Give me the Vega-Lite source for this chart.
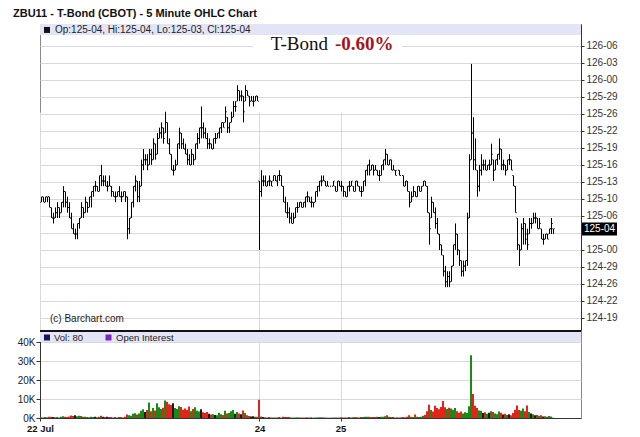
{
"$schema":"https://vega.github.io/schema/vega-lite/v6.json",
"width":541,"height":394,
"autosize":{"type":"none"},
"padding":{"left":40,"top":24,"right":59,"bottom":19},
"background":"white",
"config":{"view":{"stroke":"#888","strokeWidth":1},"axis":{"labelFont":"Liberation Sans"}},
"title":{"text":"ZBU11 - T-Bond (CBOT) - 5 Minute OHLC Chart","anchor":"start","frame":"group","dx":-27,"offset":5.5,"fontSize":11,"font":"Liberation Sans","fontWeight":"bold","color":"#111"},
"data":{"values":[
{"t":0,"o":125.281,"h":125.313,"l":125.281,"c":125.313,"v":400,"d":"u"},
{"t":1,"o":125.313,"h":125.313,"l":125.281,"c":125.281,"v":300,"d":"d"},
{"t":2,"o":125.281,"h":125.313,"l":125.281,"c":125.313,"v":500,"d":"u"},
{"t":3,"o":125.313,"h":125.313,"l":125.281,"c":125.313,"v":300,"d":"f"},
{"t":4,"o":125.313,"h":125.313,"l":125.25,"c":125.25,"v":600,"d":"d"},
{"t":5,"o":125.25,"h":125.25,"l":125.188,"c":125.188,"v":700,"d":"d"},
{"t":6,"o":125.188,"h":125.219,"l":125.156,"c":125.188,"v":500,"d":"f"},
{"t":7,"o":125.188,"h":125.25,"l":125.188,"c":125.219,"v":400,"d":"u"},
{"t":8,"o":125.219,"h":125.281,"l":125.188,"c":125.25,"v":500,"d":"u"},
{"t":9,"o":125.25,"h":125.25,"l":125.188,"c":125.219,"v":300,"d":"d"},
{"t":10,"o":125.219,"h":125.281,"l":125.219,"c":125.281,"v":600,"d":"u"},
{"t":11,"o":125.281,"h":125.375,"l":125.25,"c":125.344,"v":900,"d":"u"},
{"t":12,"o":125.344,"h":125.344,"l":125.25,"c":125.281,"v":700,"d":"d"},
{"t":13,"o":125.281,"h":125.313,"l":125.219,"c":125.25,"v":500,"d":"d"},
{"t":14,"o":125.25,"h":125.281,"l":125.188,"c":125.188,"v":800,"d":"d"},
{"t":15,"o":125.188,"h":125.219,"l":125.125,"c":125.125,"v":1300,"d":"d"},
{"t":16,"o":125.125,"h":125.156,"l":125.094,"c":125.094,"v":1100,"d":"d"},
{"t":17,"o":125.094,"h":125.125,"l":125.063,"c":125.094,"v":1500,"d":"f"},
{"t":18,"o":125.094,"h":125.156,"l":125.063,"c":125.156,"v":900,"d":"u"},
{"t":19,"o":125.156,"h":125.188,"l":125.125,"c":125.188,"v":1200,"d":"u"},
{"t":20,"o":125.188,"h":125.281,"l":125.188,"c":125.25,"v":1000,"d":"u"},
{"t":21,"o":125.25,"h":125.25,"l":125.188,"c":125.219,"v":600,"d":"d"},
{"t":22,"o":125.219,"h":125.313,"l":125.219,"c":125.281,"v":700,"d":"u"},
{"t":23,"o":125.281,"h":125.281,"l":125.219,"c":125.25,"v":500,"d":"d"},
{"t":24,"o":125.25,"h":125.313,"l":125.25,"c":125.313,"v":400,"d":"u"},
{"t":25,"o":125.313,"h":125.344,"l":125.25,"c":125.344,"v":600,"d":"u"},
{"t":26,"o":125.344,"h":125.375,"l":125.313,"c":125.375,"v":500,"d":"u"},
{"t":27,"o":125.375,"h":125.406,"l":125.344,"c":125.375,"v":700,"d":"f"},
{"t":28,"o":125.375,"h":125.375,"l":125.344,"c":125.344,"v":400,"d":"d"},
{"t":29,"o":125.344,"h":125.438,"l":125.344,"c":125.438,"v":600,"d":"u"},
{"t":30,"o":125.438,"h":125.5,"l":125.375,"c":125.406,"v":1200,"d":"d"},
{"t":31,"o":125.406,"h":125.438,"l":125.375,"c":125.406,"v":700,"d":"f"},
{"t":32,"o":125.406,"h":125.438,"l":125.375,"c":125.375,"v":500,"d":"d"},
{"t":33,"o":125.375,"h":125.406,"l":125.344,"c":125.375,"v":600,"d":"f"},
{"t":34,"o":125.375,"h":125.438,"l":125.375,"c":125.375,"v":400,"d":"f"},
{"t":35,"o":125.375,"h":125.375,"l":125.313,"c":125.344,"v":500,"d":"d"},
{"t":36,"o":125.344,"h":125.344,"l":125.313,"c":125.313,"v":300,"d":"d"},
{"t":37,"o":125.313,"h":125.344,"l":125.281,"c":125.313,"v":400,"d":"f"},
{"t":38,"o":125.313,"h":125.344,"l":125.313,"c":125.344,"v":300,"d":"u"},
{"t":39,"o":125.344,"h":125.375,"l":125.313,"c":125.313,"v":500,"d":"d"},
{"t":40,"o":125.313,"h":125.344,"l":125.281,"c":125.313,"v":400,"d":"f"},
{"t":41,"o":125.313,"h":125.344,"l":125.313,"c":125.344,"v":300,"d":"u"},
{"t":42,"o":125.344,"h":125.344,"l":125.281,"c":125.313,"v":600,"d":"d"},
{"t":43,"o":125.313,"h":125.313,"l":125.063,"c":125.125,"v":1800,"d":"d"},
{"t":44,"o":125.125,"h":125.188,"l":125.094,"c":125.188,"v":1500,"d":"u"},
{"t":45,"o":125.188,"h":125.281,"l":125.188,"c":125.281,"v":1200,"d":"u"},
{"t":46,"o":125.281,"h":125.375,"l":125.25,"c":125.375,"v":2200,"d":"u"},
{"t":47,"o":125.375,"h":125.438,"l":125.344,"c":125.406,"v":2500,"d":"u"},
{"t":48,"o":125.406,"h":125.406,"l":125.281,"c":125.313,"v":1800,"d":"d"},
{"t":49,"o":125.313,"h":125.406,"l":125.281,"c":125.375,"v":2400,"d":"u"},
{"t":50,"o":125.375,"h":125.531,"l":125.375,"c":125.5,"v":3800,"d":"u"},
{"t":51,"o":125.5,"h":125.594,"l":125.469,"c":125.531,"v":4600,"d":"u"},
{"t":52,"o":125.531,"h":125.563,"l":125.5,"c":125.531,"v":3200,"d":"f"},
{"t":53,"o":125.531,"h":125.563,"l":125.469,"c":125.5,"v":4200,"d":"d"},
{"t":54,"o":125.5,"h":125.594,"l":125.5,"c":125.563,"v":8200,"d":"u"},
{"t":55,"o":125.563,"h":125.594,"l":125.5,"c":125.531,"v":3500,"d":"d"},
{"t":56,"o":125.531,"h":125.656,"l":125.531,"c":125.625,"v":5200,"d":"u"},
{"t":57,"o":125.625,"h":125.625,"l":125.531,"c":125.563,"v":4000,"d":"d"},
{"t":58,"o":125.563,"h":125.688,"l":125.563,"c":125.656,"v":7800,"d":"u"},
{"t":59,"o":125.656,"h":125.719,"l":125.656,"c":125.688,"v":5600,"d":"u"},
{"t":60,"o":125.688,"h":125.75,"l":125.656,"c":125.719,"v":4800,"d":"u"},
{"t":61,"o":125.719,"h":125.719,"l":125.625,"c":125.656,"v":5400,"d":"d"},
{"t":62,"o":125.688,"h":125.813,"l":125.688,"c":125.75,"v":9200,"d":"u"},
{"t":63,"o":125.75,"h":125.75,"l":125.625,"c":125.625,"v":8600,"d":"d"},
{"t":64,"o":125.625,"h":125.656,"l":125.563,"c":125.563,"v":7200,"d":"d"},
{"t":65,"o":125.563,"h":125.563,"l":125.469,"c":125.469,"v":6800,"d":"d"},
{"t":66,"o":125.469,"h":125.5,"l":125.438,"c":125.469,"v":7800,"d":"f"},
{"t":67,"o":125.469,"h":125.531,"l":125.469,"c":125.5,"v":5200,"d":"u"},
{"t":68,"o":125.5,"h":125.625,"l":125.5,"c":125.625,"v":4800,"d":"u"},
{"t":69,"o":125.625,"h":125.719,"l":125.594,"c":125.688,"v":6200,"d":"u"},
{"t":70,"o":125.688,"h":125.688,"l":125.594,"c":125.625,"v":5800,"d":"d"},
{"t":71,"o":125.625,"h":125.656,"l":125.594,"c":125.594,"v":4400,"d":"d"},
{"t":72,"o":125.594,"h":125.625,"l":125.563,"c":125.563,"v":5000,"d":"d"},
{"t":73,"o":125.563,"h":125.594,"l":125.5,"c":125.531,"v":4200,"d":"d"},
{"t":74,"o":125.531,"h":125.563,"l":125.5,"c":125.5,"v":6000,"d":"d"},
{"t":75,"o":125.5,"h":125.594,"l":125.5,"c":125.563,"v":3600,"d":"u"},
{"t":76,"o":125.563,"h":125.563,"l":125.5,"c":125.531,"v":4800,"d":"d"},
{"t":77,"o":125.531,"h":125.625,"l":125.531,"c":125.625,"v":5600,"d":"u"},
{"t":78,"o":125.625,"h":125.688,"l":125.594,"c":125.656,"v":3800,"d":"u"},
{"t":79,"o":125.656,"h":125.719,"l":125.625,"c":125.719,"v":3400,"d":"u"},
{"t":80,"o":125.719,"h":125.844,"l":125.656,"c":125.719,"v":4600,"d":"f"},
{"t":81,"o":125.719,"h":125.75,"l":125.656,"c":125.688,"v":3000,"d":"d"},
{"t":82,"o":125.688,"h":125.719,"l":125.656,"c":125.656,"v":2600,"d":"d"},
{"t":83,"o":125.656,"h":125.688,"l":125.594,"c":125.625,"v":3200,"d":"d"},
{"t":84,"o":125.625,"h":125.656,"l":125.594,"c":125.625,"v":2200,"d":"f"},
{"t":85,"o":125.625,"h":125.625,"l":125.594,"c":125.594,"v":1800,"d":"d"},
{"t":86,"o":125.594,"h":125.656,"l":125.594,"c":125.656,"v":2000,"d":"u"},
{"t":87,"o":125.656,"h":125.688,"l":125.625,"c":125.656,"v":1600,"d":"f"},
{"t":88,"o":125.656,"h":125.688,"l":125.656,"c":125.688,"v":1400,"d":"u"},
{"t":89,"o":125.688,"h":125.719,"l":125.656,"c":125.719,"v":2800,"d":"u"},
{"t":90,"o":125.719,"h":125.75,"l":125.688,"c":125.75,"v":2000,"d":"u"},
{"t":91,"o":125.75,"h":125.75,"l":125.719,"c":125.719,"v":1600,"d":"d"},
{"t":92,"o":125.75,"h":125.844,"l":125.75,"c":125.813,"v":3800,"d":"u"},
{"t":93,"o":125.781,"h":125.781,"l":125.688,"c":125.719,"v":2400,"d":"d"},
{"t":94,"o":125.719,"h":125.75,"l":125.688,"c":125.75,"v":2600,"d":"u"},
{"t":95,"o":125.75,"h":125.813,"l":125.75,"c":125.781,"v":3600,"d":"u"},
{"t":96,"o":125.781,"h":125.875,"l":125.781,"c":125.844,"v":4200,"d":"u"},
{"t":97,"o":125.844,"h":125.875,"l":125.813,"c":125.844,"v":2200,"d":"f"},
{"t":98,"o":125.875,"h":125.969,"l":125.875,"c":125.938,"v":3200,"d":"u"},
{"t":99,"o":125.938,"h":125.938,"l":125.875,"c":125.906,"v":2400,"d":"d"},
{"t":100,"o":125.906,"h":125.938,"l":125.875,"c":125.906,"v":2000,"d":"f"},
{"t":101,"o":125.906,"h":125.906,"l":125.75,"c":125.813,"v":4000,"d":"d"},
{"t":102,"o":125.875,"h":125.969,"l":125.875,"c":125.938,"v":2600,"d":"u"},
{"t":103,"o":125.938,"h":125.938,"l":125.906,"c":125.906,"v":1400,"d":"d"},
{"t":104,"o":125.906,"h":125.906,"l":125.844,"c":125.875,"v":1000,"d":"d"},
{"t":105,"o":125.875,"h":125.906,"l":125.875,"c":125.875,"v":800,"d":"f"},
{"t":106,"o":125.875,"h":125.906,"l":125.844,"c":125.875,"v":900,"d":"f"},
{"t":107,"o":125.875,"h":125.906,"l":125.875,"c":125.906,"v":700,"d":"u"},
{"t":108,"o":125.906,"h":125.906,"l":125.875,"c":125.875,"v":600,"d":"d"},
{"t":109,"o":125.406,"h":125.406,"l":125,"c":125.344,"v":9600,"d":"d"},
{"t":110,"o":125.344,"h":125.469,"l":125.313,"c":125.406,"v":800,"d":"u"},
{"t":111,"o":125.406,"h":125.438,"l":125.375,"c":125.406,"v":500,"d":"f"},
{"t":112,"o":125.406,"h":125.438,"l":125.375,"c":125.375,"v":400,"d":"d"},
{"t":113,"o":125.375,"h":125.406,"l":125.375,"c":125.406,"v":300,"d":"u"},
{"t":114,"o":125.406,"h":125.438,"l":125.375,"c":125.406,"v":400,"d":"f"},
{"t":115,"o":125.406,"h":125.406,"l":125.375,"c":125.375,"v":300,"d":"d"},
{"t":116,"o":125.406,"h":125.438,"l":125.406,"c":125.438,"v":300,"d":"u"},
{"t":117,"o":125.438,"h":125.438,"l":125.406,"c":125.406,"v":200,"d":"d"},
{"t":118,"o":125.406,"h":125.438,"l":125.375,"c":125.438,"v":300,"d":"u"},
{"t":119,"o":125.438,"h":125.469,"l":125.406,"c":125.438,"v":400,"d":"f"},
{"t":120,"o":125.438,"h":125.438,"l":125.375,"c":125.375,"v":300,"d":"d"},
{"t":121,"o":125.375,"h":125.375,"l":125.281,"c":125.281,"v":600,"d":"d"},
{"t":122,"o":125.281,"h":125.313,"l":125.219,"c":125.219,"v":500,"d":"d"},
{"t":123,"o":125.219,"h":125.281,"l":125.188,"c":125.219,"v":400,"d":"f"},
{"t":124,"o":125.219,"h":125.25,"l":125.156,"c":125.188,"v":500,"d":"d"},
{"t":125,"o":125.188,"h":125.219,"l":125.156,"c":125.156,"v":300,"d":"d"},
{"t":126,"o":125.156,"h":125.219,"l":125.156,"c":125.188,"v":300,"d":"u"},
{"t":127,"o":125.188,"h":125.25,"l":125.188,"c":125.25,"v":200,"d":"u"},
{"t":128,"o":125.25,"h":125.281,"l":125.219,"c":125.25,"v":300,"d":"f"},
{"t":129,"o":125.25,"h":125.281,"l":125.25,"c":125.281,"v":200,"d":"u"},
{"t":130,"o":125.281,"h":125.281,"l":125.25,"c":125.25,"v":200,"d":"d"},
{"t":131,"o":125.25,"h":125.281,"l":125.25,"c":125.281,"v":200,"d":"u"},
{"t":132,"o":125.281,"h":125.313,"l":125.25,"c":125.313,"v":300,"d":"u"},
{"t":133,"o":125.313,"h":125.344,"l":125.281,"c":125.313,"v":300,"d":"f"},
{"t":134,"o":125.313,"h":125.313,"l":125.281,"c":125.281,"v":200,"d":"d"},
{"t":135,"o":125.281,"h":125.313,"l":125.25,"c":125.281,"v":200,"d":"f"},
{"t":136,"o":125.281,"h":125.281,"l":125.25,"c":125.281,"v":100,"d":"f"},
{"t":137,"o":125.281,"h":125.344,"l":125.281,"c":125.344,"v":300,"d":"u"},
{"t":138,"o":125.344,"h":125.375,"l":125.313,"c":125.375,"v":300,"d":"u"},
{"t":139,"o":125.375,"h":125.406,"l":125.344,"c":125.406,"v":400,"d":"u"},
{"t":140,"o":125.406,"h":125.438,"l":125.375,"c":125.406,"v":300,"d":"f"},
{"t":141,"o":125.406,"h":125.438,"l":125.406,"c":125.406,"v":200,"d":"f"},
{"t":142,"o":125.406,"h":125.406,"l":125.375,"c":125.375,"v":200,"d":"d"},
{"t":143,"o":125.375,"h":125.406,"l":125.375,"c":125.375,"v":100,"d":"f"},
{"t":144,"o":125.375,"h":125.375,"l":125.375,"c":125.375,"v":100,"d":"f"},
{"t":145,"o":125.375,"h":125.375,"l":125.375,"c":125.375,"v":100,"d":"f"},
{"t":146,"o":125.375,"h":125.406,"l":125.375,"c":125.406,"v":200,"d":"u"},
{"t":147,"o":125.375,"h":125.375,"l":125.344,"c":125.344,"v":200,"d":"d"},
{"t":148,"o":125.344,"h":125.406,"l":125.344,"c":125.406,"v":300,"d":"u"},
{"t":149,"o":125.406,"h":125.406,"l":125.375,"c":125.375,"v":200,"d":"d"},
{"t":150,"o":125.375,"h":125.406,"l":125.344,"c":125.375,"v":300,"d":"f"},
{"t":151,"o":125.375,"h":125.375,"l":125.313,"c":125.344,"v":200,"d":"d"},
{"t":152,"o":125.344,"h":125.344,"l":125.313,"c":125.313,"v":200,"d":"d"},
{"t":153,"o":125.313,"h":125.375,"l":125.313,"c":125.375,"v":300,"d":"u"},
{"t":154,"o":125.375,"h":125.406,"l":125.344,"c":125.375,"v":400,"d":"f"},
{"t":155,"o":125.375,"h":125.406,"l":125.375,"c":125.406,"v":300,"d":"u"},
{"t":156,"o":125.375,"h":125.375,"l":125.344,"c":125.344,"v":400,"d":"d"},
{"t":157,"o":125.344,"h":125.406,"l":125.344,"c":125.406,"v":500,"d":"u"},
{"t":158,"o":125.406,"h":125.406,"l":125.375,"c":125.375,"v":400,"d":"d"},
{"t":159,"o":125.375,"h":125.375,"l":125.344,"c":125.344,"v":300,"d":"d"},
{"t":160,"o":125.344,"h":125.375,"l":125.313,"c":125.344,"v":400,"d":"f"},
{"t":161,"o":125.344,"h":125.406,"l":125.344,"c":125.406,"v":500,"d":"u"},
{"t":162,"o":125.406,"h":125.469,"l":125.375,"c":125.469,"v":600,"d":"u"},
{"t":163,"o":125.469,"h":125.5,"l":125.438,"c":125.5,"v":700,"d":"u"},
{"t":164,"o":125.5,"h":125.531,"l":125.438,"c":125.469,"v":600,"d":"d"},
{"t":165,"o":125.469,"h":125.5,"l":125.469,"c":125.5,"v":500,"d":"u"},
{"t":166,"o":125.5,"h":125.5,"l":125.438,"c":125.469,"v":500,"d":"d"},
{"t":167,"o":125.469,"h":125.5,"l":125.469,"c":125.469,"v":400,"d":"f"},
{"t":168,"o":125.469,"h":125.469,"l":125.438,"c":125.438,"v":600,"d":"d"},
{"t":169,"o":125.438,"h":125.469,"l":125.406,"c":125.438,"v":500,"d":"f"},
{"t":170,"o":125.438,"h":125.5,"l":125.438,"c":125.5,"v":600,"d":"u"},
{"t":171,"o":125.5,"h":125.531,"l":125.469,"c":125.531,"v":700,"d":"u"},
{"t":172,"o":125.531,"h":125.594,"l":125.5,"c":125.563,"v":900,"d":"u"},
{"t":173,"o":125.563,"h":125.563,"l":125.5,"c":125.5,"v":1400,"d":"d"},
{"t":174,"o":125.5,"h":125.531,"l":125.5,"c":125.531,"v":600,"d":"u"},
{"t":175,"o":125.531,"h":125.531,"l":125.469,"c":125.469,"v":500,"d":"d"},
{"t":176,"o":125.469,"h":125.5,"l":125.469,"c":125.469,"v":400,"d":"f"},
{"t":177,"o":125.469,"h":125.469,"l":125.438,"c":125.438,"v":300,"d":"d"},
{"t":178,"o":125.469,"h":125.469,"l":125.469,"c":125.469,"v":200,"d":"f"},
{"t":179,"o":125.469,"h":125.469,"l":125.438,"c":125.438,"v":300,"d":"d"},
{"t":180,"o":125.438,"h":125.438,"l":125.438,"c":125.438,"v":200,"d":"f"},
{"t":181,"o":125.438,"h":125.438,"l":125.375,"c":125.375,"v":500,"d":"d"},
{"t":182,"o":125.375,"h":125.406,"l":125.375,"c":125.406,"v":400,"d":"u"},
{"t":183,"o":125.406,"h":125.406,"l":125.344,"c":125.344,"v":600,"d":"d"},
{"t":184,"o":125.344,"h":125.344,"l":125.25,"c":125.281,"v":1500,"d":"d"},
{"t":185,"o":125.281,"h":125.344,"l":125.281,"c":125.313,"v":700,"d":"u"},
{"t":186,"o":125.313,"h":125.375,"l":125.313,"c":125.344,"v":500,"d":"u"},
{"t":187,"o":125.344,"h":125.344,"l":125.313,"c":125.313,"v":1800,"d":"d"},
{"t":188,"o":125.313,"h":125.375,"l":125.313,"c":125.375,"v":600,"d":"u"},
{"t":189,"o":125.375,"h":125.375,"l":125.344,"c":125.344,"v":500,"d":"d"},
{"t":190,"o":125.344,"h":125.375,"l":125.344,"c":125.375,"v":700,"d":"u"},
{"t":191,"o":125.375,"h":125.406,"l":125.375,"c":125.406,"v":1200,"d":"u"},
{"t":192,"o":125.406,"h":125.406,"l":125.375,"c":125.375,"v":1600,"d":"d"},
{"t":193,"o":125.375,"h":125.375,"l":125.219,"c":125.219,"v":3600,"d":"d"},
{"t":194,"o":125.219,"h":125.219,"l":125.031,"c":125.125,"v":7000,"d":"d"},
{"t":195,"o":125.188,"h":125.313,"l":125.188,"c":125.281,"v":4200,"d":"u"},
{"t":196,"o":125.281,"h":125.281,"l":125.219,"c":125.219,"v":3400,"d":"d"},
{"t":197,"o":125.219,"h":125.25,"l":125.125,"c":125.156,"v":6400,"d":"d"},
{"t":198,"o":125.156,"h":125.188,"l":125.094,"c":125.094,"v":5200,"d":"d"},
{"t":199,"o":125.094,"h":125.094,"l":125,"c":125.031,"v":4600,"d":"d"},
{"t":200,"o":125.031,"h":125.031,"l":124.969,"c":125,"v":5800,"d":"d"},
{"t":201,"o":124.969,"h":124.969,"l":124.844,"c":124.875,"v":9000,"d":"d"},
{"t":202,"o":124.875,"h":124.906,"l":124.781,"c":124.813,"v":5600,"d":"d"},
{"t":203,"o":124.813,"h":124.875,"l":124.781,"c":124.844,"v":4800,"d":"u"},
{"t":204,"o":124.844,"h":124.875,"l":124.781,"c":124.813,"v":5400,"d":"d"},
{"t":205,"o":124.813,"h":124.906,"l":124.813,"c":124.906,"v":5000,"d":"u"},
{"t":206,"o":124.906,"h":125.031,"l":124.906,"c":125.031,"v":4400,"d":"u"},
{"t":207,"o":125.031,"h":125.156,"l":125,"c":125.094,"v":5200,"d":"u"},
{"t":208,"o":125.094,"h":125.094,"l":124.969,"c":125,"v":3600,"d":"d"},
{"t":209,"o":125,"h":125,"l":124.906,"c":124.938,"v":2800,"d":"d"},
{"t":210,"o":124.938,"h":124.938,"l":124.844,"c":124.875,"v":3400,"d":"d"},
{"t":211,"o":124.875,"h":124.938,"l":124.844,"c":124.906,"v":2400,"d":"u"},
{"t":212,"o":124.906,"h":124.938,"l":124.875,"c":124.938,"v":3000,"d":"u"},
{"t":213,"o":124.938,"h":125.219,"l":124.906,"c":125.188,"v":2600,"d":"u"},
{"t":214,"o":125.188,"h":125.563,"l":125.188,"c":125.531,"v":6200,"d":"u"},
{"t":215,"o":125.531,"h":126.094,"l":125.531,"c":125.688,"v":33000,"d":"u"},
{"t":216,"o":125.688,"h":125.781,"l":125.469,"c":125.531,"v":12600,"d":"d"},
{"t":217,"o":125.531,"h":125.656,"l":125.469,"c":125.5,"v":6400,"d":"d"},
{"t":218,"o":125.469,"h":125.469,"l":125.313,"c":125.375,"v":5200,"d":"d"},
{"t":219,"o":125.375,"h":125.5,"l":125.344,"c":125.469,"v":4000,"d":"u"},
{"t":220,"o":125.469,"h":125.563,"l":125.438,"c":125.5,"v":3800,"d":"u"},
{"t":221,"o":125.5,"h":125.531,"l":125.469,"c":125.5,"v":2600,"d":"f"},
{"t":222,"o":125.5,"h":125.531,"l":125.469,"c":125.469,"v":3000,"d":"d"},
{"t":223,"o":125.469,"h":125.5,"l":125.469,"c":125.5,"v":2200,"d":"u"},
{"t":224,"o":125.5,"h":125.531,"l":125.469,"c":125.5,"v":2800,"d":"f"},
{"t":225,"o":125.5,"h":125.625,"l":125.5,"c":125.563,"v":3600,"d":"u"},
{"t":226,"o":125.531,"h":125.531,"l":125.406,"c":125.469,"v":3200,"d":"d"},
{"t":227,"o":125.469,"h":125.531,"l":125.469,"c":125.531,"v":2400,"d":"u"},
{"t":228,"o":125.531,"h":125.563,"l":125.5,"c":125.563,"v":2000,"d":"u"},
{"t":229,"o":125.563,"h":125.656,"l":125.531,"c":125.594,"v":3400,"d":"u"},
{"t":230,"o":125.594,"h":125.594,"l":125.469,"c":125.5,"v":2800,"d":"d"},
{"t":231,"o":125.5,"h":125.531,"l":125.469,"c":125.5,"v":1800,"d":"f"},
{"t":232,"o":125.5,"h":125.5,"l":125.438,"c":125.469,"v":2200,"d":"d"},
{"t":233,"o":125.469,"h":125.531,"l":125.469,"c":125.531,"v":1600,"d":"u"},
{"t":234,"o":125.531,"h":125.563,"l":125.5,"c":125.531,"v":2000,"d":"f"},
{"t":235,"o":125.531,"h":125.531,"l":125.469,"c":125.469,"v":1400,"d":"d"},
{"t":236,"o":125.438,"h":125.438,"l":125.375,"c":125.375,"v":2600,"d":"d"},
{"t":237,"o":125.375,"h":125.375,"l":125.219,"c":125.219,"v":4400,"d":"d"},
{"t":238,"o":125.188,"h":125.188,"l":125,"c":125.031,"v":6600,"d":"d"},
{"t":239,"o":125.031,"h":125.031,"l":124.906,"c":125,"v":4200,"d":"d"},
{"t":240,"o":125,"h":125.156,"l":125,"c":125.125,"v":3800,"d":"u"},
{"t":241,"o":125.125,"h":125.188,"l":125.031,"c":125.156,"v":5000,"d":"u"},
{"t":242,"o":125.156,"h":125.156,"l":125.031,"c":125.063,"v":3600,"d":"d"},
{"t":243,"o":125.094,"h":125.125,"l":125,"c":125.031,"v":6600,"d":"d"},
{"t":244,"o":125.094,"h":125.188,"l":125.094,"c":125.156,"v":3200,"d":"u"},
{"t":245,"o":125.156,"h":125.188,"l":125.125,"c":125.156,"v":2400,"d":"f"},
{"t":246,"o":125.156,"h":125.219,"l":125.156,"c":125.188,"v":2000,"d":"u"},
{"t":247,"o":125.188,"h":125.219,"l":125.156,"c":125.188,"v":1400,"d":"f"},
{"t":248,"o":125.188,"h":125.188,"l":125.125,"c":125.125,"v":1600,"d":"d"},
{"t":249,"o":125.125,"h":125.188,"l":125.125,"c":125.156,"v":1200,"d":"u"},
{"t":250,"o":125.125,"h":125.125,"l":125.063,"c":125.063,"v":1400,"d":"d"},
{"t":251,"o":125.063,"h":125.094,"l":125.031,"c":125.063,"v":800,"d":"f"},
{"t":252,"o":125.063,"h":125.094,"l":125.063,"c":125.094,"v":900,"d":"u"},
{"t":253,"o":125.094,"h":125.094,"l":125.063,"c":125.063,"v":600,"d":"d"},
{"t":254,"o":125.094,"h":125.125,"l":125.094,"c":125.125,"v":1000,"d":"u"},
{"t":255,"o":125.125,"h":125.188,"l":125.094,"c":125.156,"v":800,"d":"u"},
{"t":256,"o":125.125,"h":125.125,"l":125.094,"c":125.125,"v":80,"d":"f"}
]},
"layer":[
 {"encoding":{
    "x":{"field":"t","type":"quantitative","title":null,"scale":{"domain":[-0.75,269.75],"nice":false,"zero":false,"padding":0},
      "axis":{"orient":"bottom","values":[-0.75,109,149.5],"labelExpr":"datum.value < 0 ? '22 Jul' : (datum.value < 120 ? '24' : '25')","title":null,"grid":true,"gridColor":"#d9d9d9","labelFontWeight":"bold","labelFontSize":9.5,"labelColor":"#111","tickSize":3,"tickColor":"#333","labelPadding":2,"domainColor":"#333","labelFlush":false,"labelOverlap":false}},
    "y":{"field":"h","type":"quantitative","title":null,"scale":{"domain":[124.529,126.329],"range":[306,0],"nice":false,"zero":false},
      "axis":{"orient":"right","values":[124.6,124.7,124.8,124.9,125,125.1,125.2,125.3,125.4,125.5,125.6,125.7,125.8,125.9,126,126.1,126.2],
      "labelExpr":"abs(datum.value - 125.1) < 0.01 ? '' : floor(datum.value + 0.0001) + '-' + (round((datum.value - floor(datum.value + 0.0001)) * 32) < 10 ? '0' : '') + round((datum.value - floor(datum.value + 0.0001)) * 32)",
      "title":null,"grid":true,"gridColor":"#d9d9d9","tickSize":3,"tickColor":"#333","labelPadding":2,"domainColor":"#333","labelFontSize":10,"labelColor":"#333","labelOverlap":false,"labelFlush":false}}},
  "layer":[
   {"mark":{"type":"rule","color":"#000","strokeWidth":1},"encoding":{"y2":{"field":"l"}}},
   {"mark":{"type":"tick","orient":"horizontal","size":1,"thickness":1,"xOffset":-1,"color":"#000"},"encoding":{"y":{"field":"o"}}},
   {"mark":{"type":"tick","orient":"horizontal","size":1,"thickness":1,"xOffset":1,"color":"#000"},"encoding":{"y":{"field":"c"}}}
  ]},
 {"mark":{"type":"bar","size":2,"xOffset":-0.5},
  "encoding":{
     "x":{"field":"t","type":"quantitative","title":null,"scale":{"domain":[-0.75,269.75],"nice":false,"zero":false,"padding":0}},
     "y":{"field":"v","type":"quantitative","stack":null,"title":null,"scale":{"domain":[0,45790],"range":[394,307],"nice":false,"zero":false},
      "axis":{"orient":"left","values":[0,10000,20000,30000,40000],"labelExpr":"(datum.value / 1000) + 'K'","title":null,"grid":true,"gridColor":"#d9d9d9","tickSize":4,"tickColor":"#333","labelPadding":1,"domainColor":"#333","labelFontSize":10,"labelColor":"#222","labelFlush":false,"labelOverlap":false}},
     "color":{"field":"d","type":"nominal","scale":{"domain":["u","d","f"],"range":["#178a17","#e3241b","#1c1c1c"]},"legend":null}}},
 {"data":{"values":[{}]},
  "layer":[
   {"mark":{"type":"rect","color":"#e3e5f7"},"encoding":{"x":{"datum":-0.75,"type":"quantitative"},"x2":{"datum":269.75},"y":{"datum":126.264,"type":"quantitative","scale":{"domain":[124.529,126.329],"range":[306,0],"nice":false,"zero":false},"axis":null},"y2":{"datum":126.329}}},
   {"mark":{"type":"point","shape":"square","filled":true,"size":36,"color":"#111","opacity":1},"encoding":{"x":{"datum":2.75,"type":"quantitative"},"y":{"datum":126.294,"type":"quantitative","axis":null}}},
   {"mark":{"type":"text","align":"left","baseline":"middle","font":"Liberation Sans","fontSize":10,"color":"#222"},"encoding":{"x":{"datum":6.75,"type":"quantitative"},"y":{"datum":126.294,"type":"quantitative","axis":null},"text":{"value":"Op:125-04, Hi:125-04, Lo:125-03, Cl:125-04"}}},
   {"mark":{"type":"rect","color":"white"},"encoding":{"x":{"datum":105.75,"type":"quantitative"},"x2":{"datum":180.25},"y":{"datum":126.147,"type":"quantitative","axis":null},"y2":{"datum":126.258}}},
   {"mark":{"type":"text","align":"right","baseline":"alphabetic","font":"Liberation Serif","fontSize":19,"color":"#111"},"encoding":{"x":{"datum":143.25,"type":"quantitative"},"y":{"datum":126.179,"type":"quantitative","axis":null},"text":{"value":"T-Bond"}}},
   {"mark":{"type":"text","align":"left","baseline":"alphabetic","font":"Liberation Serif","fontSize":19,"fontWeight":"bold","color":"#a3141a"},"encoding":{"x":{"datum":146.75,"type":"quantitative"},"y":{"datum":126.179,"type":"quantitative","axis":null},"text":{"value":"-0.60%"}}},
   {"mark":{"type":"text","align":"left","baseline":"middle","font":"Liberation Sans","fontSize":10,"color":"#222"},"encoding":{"x":{"datum":4.25,"type":"quantitative"},"y":{"datum":124.596,"type":"quantitative","axis":null},"text":{"value":"(c) Barchart.com"}}},
   {"mark":{"type":"rect","color":"#000"},"encoding":{"x":{"datum":270.25,"type":"quantitative"},"x2":{"datum":287.75},"y":{"datum":125.085,"type":"quantitative","axis":null},"y2":{"datum":125.161}}},
   {"mark":{"type":"text","align":"left","baseline":"middle","font":"Liberation Sans","fontSize":10,"color":"white"},"encoding":{"x":{"datum":271.25,"type":"quantitative"},"y":{"datum":125.125,"type":"quantitative","axis":null},"text":{"value":"125-04"}}}
  ]},
 {"data":{"values":[{}]},
  "layer":[
   {"mark":{"type":"rect","color":"#e3e5f7"},"encoding":{"x":{"datum":-0.75,"type":"quantitative"},"x2":{"datum":269.75},"y":{"datum":40000,"type":"quantitative","scale":{"domain":[0,45790],"range":[394,307],"nice":false,"zero":false},"axis":null},"y2":{"datum":45263}}},
   {"mark":{"type":"rule","color":"#111","strokeWidth":2},"encoding":{"x":{"datum":-0.75,"type":"quantitative"},"x2":{"datum":269.75},"y":{"datum":45790,"type":"quantitative","axis":null}}},
   {"mark":{"type":"point","shape":"square","filled":true,"size":36,"color":"#14145c","opacity":1},"encoding":{"x":{"datum":2.75,"type":"quantitative"},"y":{"datum":42368,"type":"quantitative","axis":null}}},
   {"mark":{"type":"text","align":"left","baseline":"middle","font":"Liberation Sans","fontSize":9.5,"color":"#222"},"encoding":{"x":{"datum":6.25,"type":"quantitative"},"y":{"datum":42368,"type":"quantitative","axis":null},"text":{"value":"Vol: 80"}}},
   {"mark":{"type":"point","shape":"square","filled":true,"size":36,"color":"#7d22c4","opacity":1},"encoding":{"x":{"datum":33.5,"type":"quantitative"},"y":{"datum":42368,"type":"quantitative","axis":null}}},
   {"mark":{"type":"text","align":"left","baseline":"middle","font":"Liberation Sans","fontSize":9.5,"color":"#222"},"encoding":{"x":{"datum":37.25,"type":"quantitative"},"y":{"datum":42368,"type":"quantitative","axis":null},"text":{"value":"Open Interest"}}}
  ]}
],
"resolve":{"scale":{"y":"independent"},"axis":{"y":"independent"}}
}
